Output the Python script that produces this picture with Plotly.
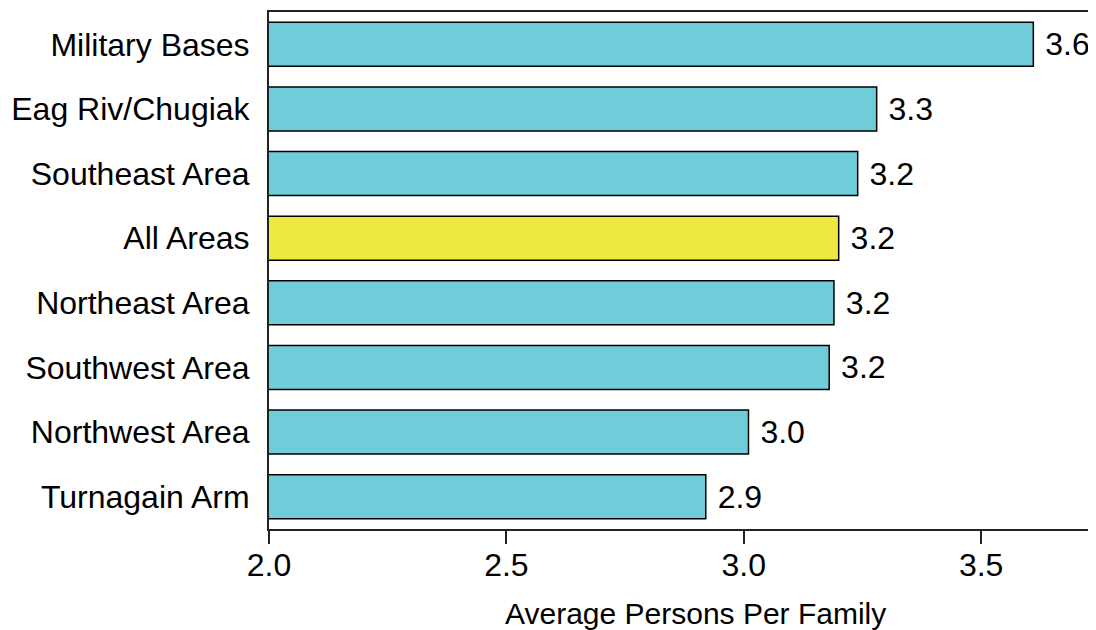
import plotly.graph_objects as go

categories = ["Military Bases", "Eag Riv/Chugiak", "Southeast Area", "All Areas",
              "Northeast Area", "Southwest Area", "Northwest Area", "Turnagain Arm"]
values = [3.61, 3.28, 3.24, 3.20, 3.19, 3.18, 3.01, 2.92]
highlight = "All Areas"
x_ticks = [2.0, 2.5, 3.0, 3.5]
x_tick_labels = ["2.0", "2.5", "3.0", "3.5"]

colors = ["#EDEA3F" if c == highlight else "#6FCCD9" for c in categories]

fig = go.Figure(go.Bar(
    y=categories, x=values, orientation="h",
    base=0,
    marker=dict(color=colors, line=dict(color="black", width=1.5)),
    texttemplate=" %{x:.1f}", textposition="outside",
    textfont=dict(family="Liberation Sans, Arial", size=32, color="black"),
    cliponaxis=False,
))

fig.update_layout(
    width=1088, height=622,
    margin=dict(l=261, r=0, t=4, b=101),
    plot_bgcolor="white", paper_bgcolor="white",
    bargap=0.32,
    showlegend=False,
    font=dict(family="Liberation Sans, Arial", size=32, color="black"),
    xaxis=dict(range=[2.0, 3.742], tickvals=x_ticks, ticktext=x_tick_labels,
               ticks="outside", ticklen=13, tickwidth=2, tickcolor="#222",
               showline=True, linecolor="#222", linewidth=2, mirror=True,
               showgrid=False, zeroline=False, ticklabelstandoff=-6,
               tickfont=dict(size=32)),
    yaxis=dict(categoryorder="array", categoryarray=categories[::-1],
               showline=True, linecolor="#222", linewidth=2,
               ticks="", showgrid=False, zeroline=False,
               ticklabelstandoff=11, tickfont=dict(size=32)),
    annotations=[dict(text="Average Persons Per Family", xref="paper", yref="paper",
                      x=0.516, y=-0.1625, xanchor="center", yanchor="middle",
                      showarrow=False, font=dict(size=30))],
)

fig.write_html("out.html")
